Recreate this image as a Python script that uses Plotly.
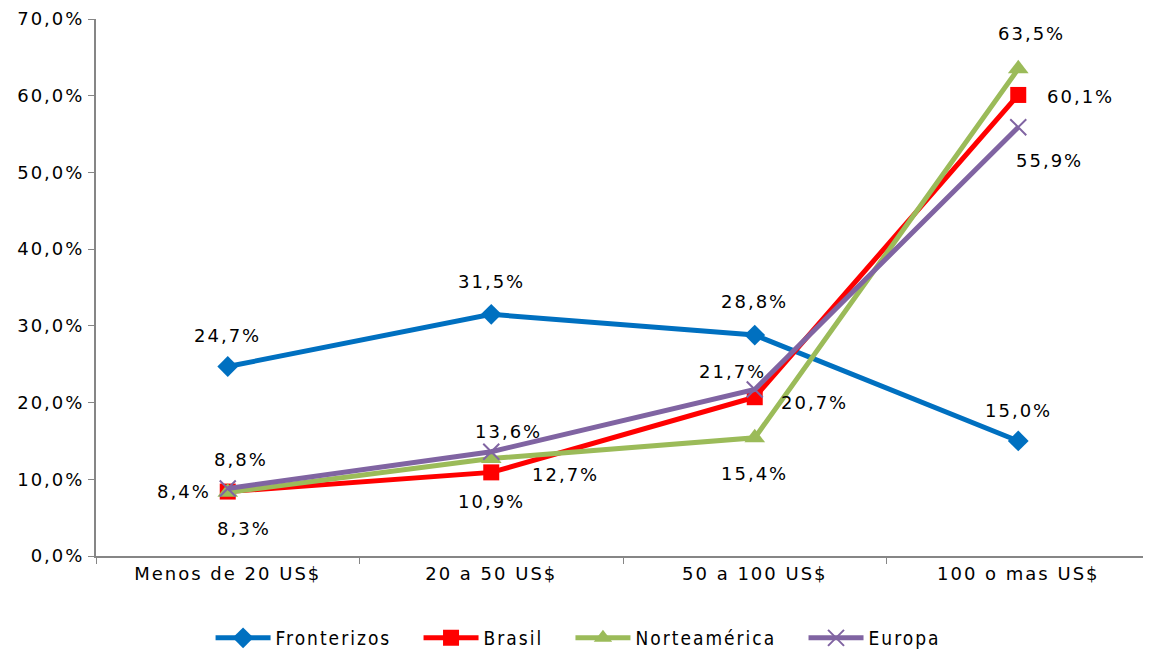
import plotly.graph_objects as go

categories = ["Menos de 20 US$", "20 a 50 US$", "50 a 100 US$", "100 o mas US$"]
fronterizos = [24.7, 31.5, 28.8, 15.0]
brasil = [8.4, 10.9, 20.7, 60.1]
norteamerica = [8.3, 12.7, 15.4, 63.5]
europa = [8.8, 13.6, 21.7, 55.9]
y_ticks = [0, 10, 20, 30, 40, 50, 60, 70]

FONT = "DejaVu Sans"
LEG_FONT = "DejaVu Sans Condensed"


def sp(t, ls=2):
    return f'<span style="letter-spacing:{ls}px">{t}</span>'


def fmt(v):
    return f"{v:.1f}".replace(".", ",") + "%"


series = [
    ("Fronterizos", fronterizos, "#0070C0", dict(symbol="diamond", size=16)),
    ("Brasil", brasil, "#FF0000", dict(symbol="square", size=16)),
    ("Norteamérica", norteamerica, "#9BBB59", dict(symbol="triangle-up", size=18)),
    ("Europa", europa, "#8064A2", dict(symbol="x-thin-open", size=16, line=dict(width=2, color="#8064A2"))),
]

# label offsets (xshift, yshift, xanchor) per series per point
offsets = {
    "Fronterizos": [(0, 31, "center"), (0, 33, "center"), (0, 34, "center"), (0, 30, "center")],
    "Brasil": [(-15, 0, "right"), (0, -29, "center"), (24, -5, "left"), (27, -2, "left")],
    "Norteamérica": [(16, -36, "center"), (39, -16, "left"), (0, -36, "center"), (13, 35, "center")],
    "Europa": [(13, 29, "center"), (17, 20, "center"), (-22, 18, "center"), (31, -33, "center")],
}

PAD = "\u00a0" * 3

fig = go.Figure()
annotations = []
for name, vals, color, marker in series:
    m = dict(color=color, **marker)
    fig.add_trace(go.Scatter(
        x=categories, y=vals, name=sp(name + PAD, 2), mode="lines+markers",
        line=dict(color=color, width=5), marker=m,
    ))
    for i, v in enumerate(vals):
        xs, ys, xa = offsets[name][i]
        annotations.append(dict(
            x=categories[i], y=v, text=sp(fmt(v)), showarrow=False,
            xshift=xs, yshift=ys, xanchor=xa, yanchor="middle",
            font=dict(family=FONT, size=18, color="#000000"),
        ))

fig.update_layout(
    width=1143, height=645,
    margin=dict(l=88, r=1, t=11, b=97, autoexpand=False),
    paper_bgcolor="white", plot_bgcolor="white",
    font=dict(family=FONT, size=18, color="#000000"),
    showlegend=True,
    legend=dict(orientation="h", x=0.1087, xanchor="left", y=-0.1527, yanchor="middle",
                font=dict(family=LEG_FONT, size=19), tracegroupgap=0, itemwidth=55),
    annotations=annotations,
)
fig.update_xaxes(
    type="category", range=[-0.5, 3.5], showgrid=False,
    tickvals=categories, ticktext=[sp(c) for c in categories],
    showline=True, linecolor="#868686", linewidth=2,
    ticks="outside", tickson="boundaries", ticklen=6, tickcolor="#868686",
    tickfont=dict(family=FONT, size=18),
)
fig.update_yaxes(
    range=[0, 70], tickvals=y_ticks, ticktext=[sp(fmt(t)) for t in y_ticks],
    showgrid=False, zeroline=False, ticklabeloverflow="allow",
    showline=True, linecolor="#868686", linewidth=2,
    ticks="outside", ticklen=6, tickcolor="#868686",
    tickfont=dict(family=FONT, size=18),
)
fig.write_html("out.html")
